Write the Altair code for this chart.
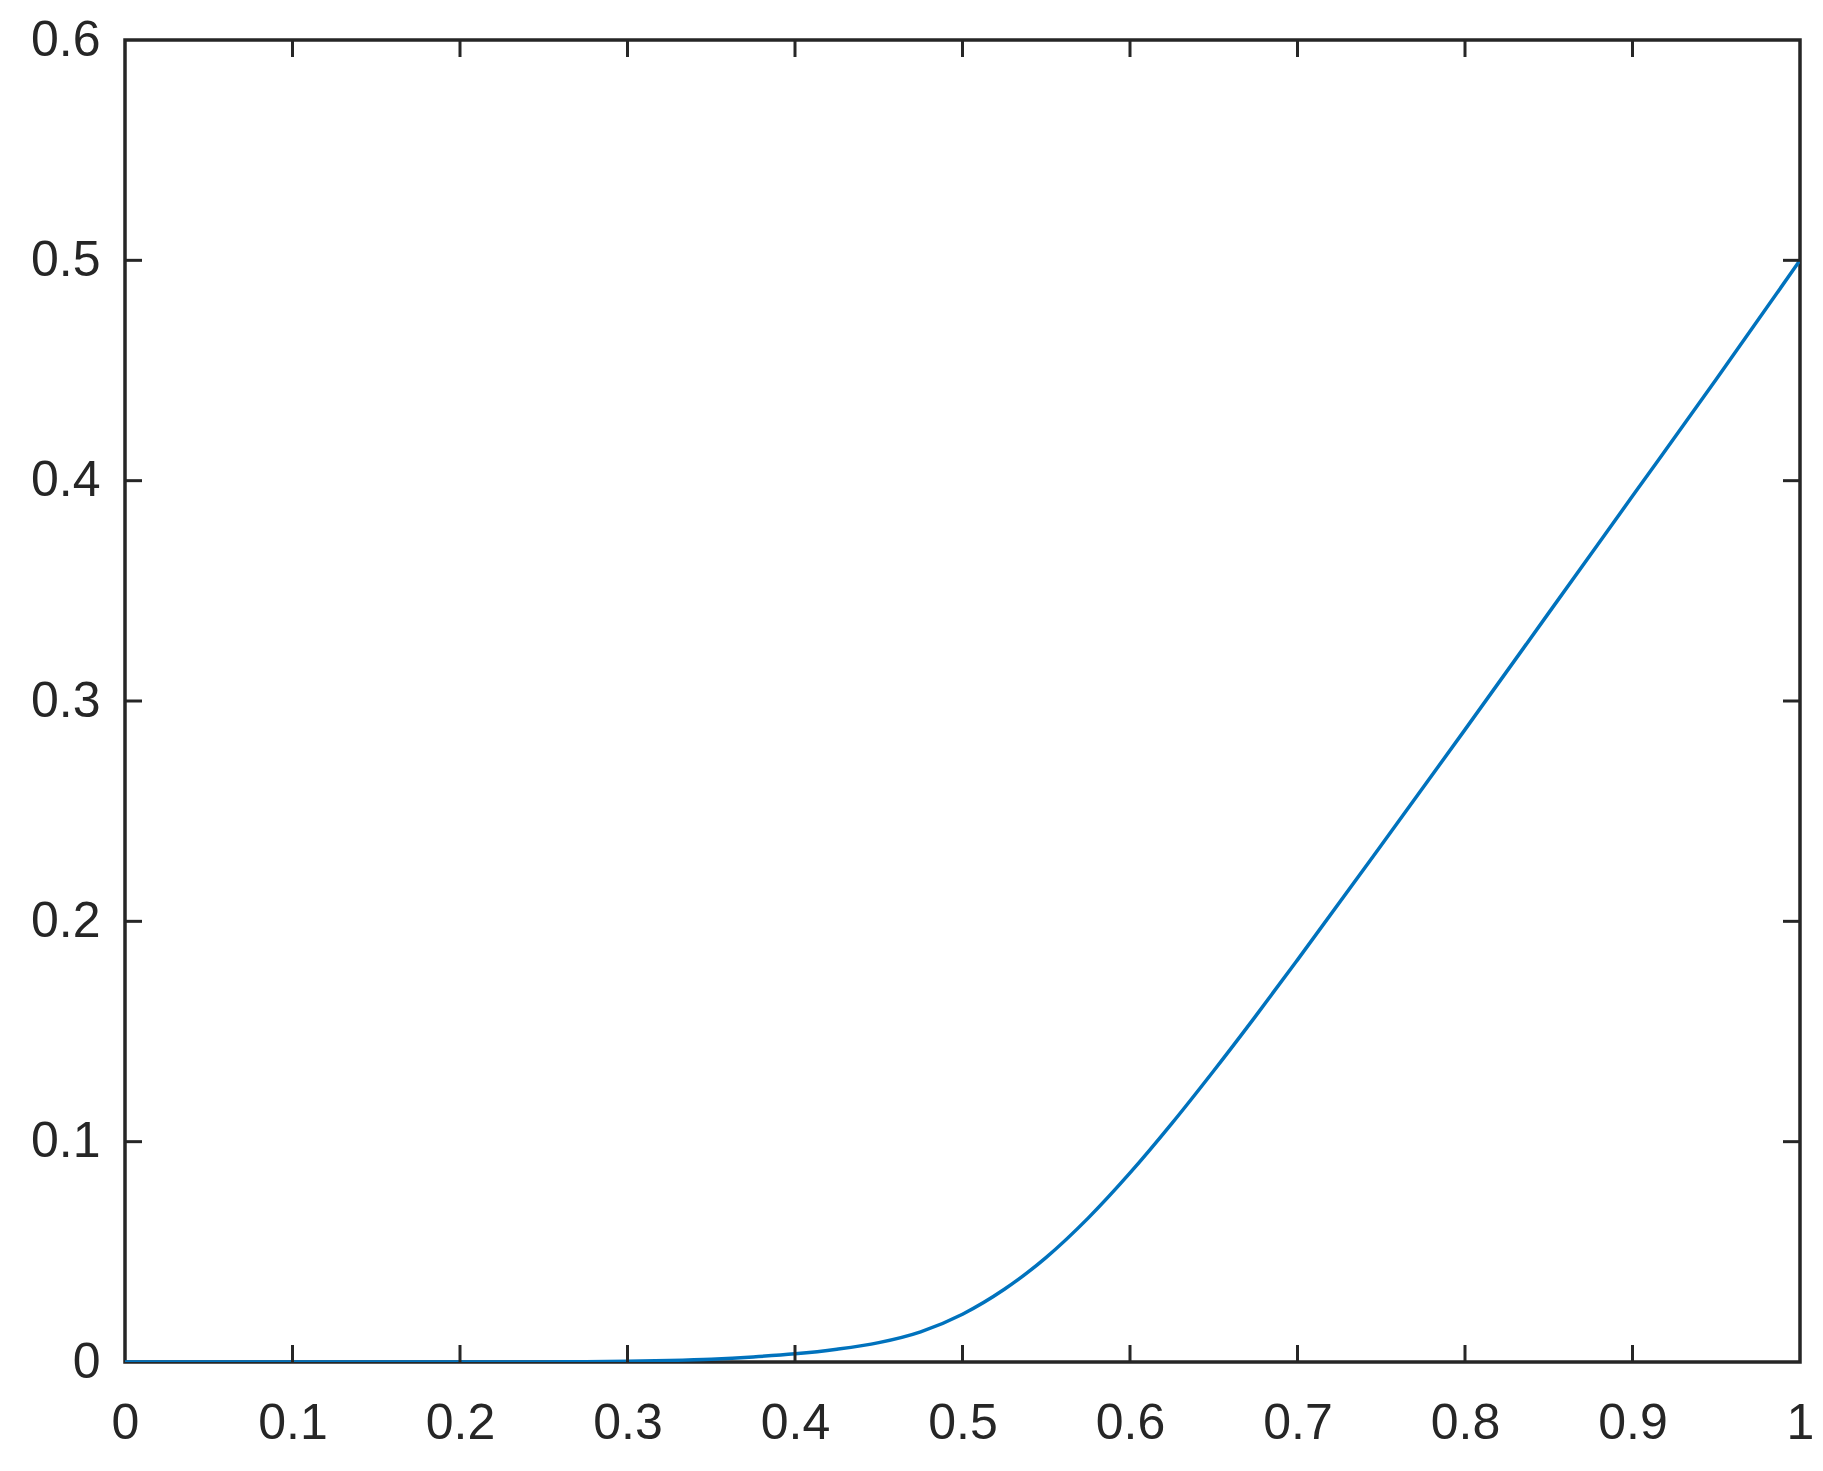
import altair as alt
import pandas as pd

# Values
x_vals = [0.0, 0.1, 0.2, 0.25, 0.275, 0.3, 0.325, 0.35, 0.375, 0.4, 0.425, 0.45,
          0.475, 0.5, 0.525, 0.55, 0.575, 0.6, 0.625, 0.65, 0.675, 0.7,
          0.75, 0.8, 0.85, 0.9, 0.95, 1.0]
y_vals = [0.0, 0.0, 0.0, 0.00005, 0.0001, 0.0003, 0.0007, 0.0013, 0.0023, 0.0037, 0.0058, 0.0088,
          0.0137, 0.0217, 0.033, 0.0475, 0.0653, 0.0858, 0.1083, 0.1322, 0.157, 0.1825,
          0.2345, 0.287, 0.340, 0.393, 0.446, 0.5]

x_ticks = [0, 0.1, 0.2, 0.3, 0.4, 0.5, 0.6, 0.7, 0.8, 0.9, 1]
y_ticks = [0, 0.1, 0.2, 0.3, 0.4, 0.5, 0.6]

W, H = 1675, 1322
TICK = 17
AXIS_COLOR = "#262626"
FONT = "Liberation Sans"

curve = pd.DataFrame({"x": x_vals, "y": y_vals})
xt = pd.DataFrame({"x": x_ticks[1:-1]})
yt = pd.DataFrame({"y": y_ticks[1:-1]})

xscale = alt.Scale(domain=[0, 1], nice=False, zero=False)
yscale = alt.Scale(domain=[0, 0.6], nice=False, zero=False)

line = alt.Chart(curve).mark_line(
    color="#0072BD", strokeWidth=3.5, interpolate="monotone", clip=True
).encode(
    x=alt.X("x:Q", scale=xscale, axis=alt.Axis(
        values=x_ticks, format="~g", title=None, grid=False, domain=False,
        ticks=False, tickSize=0, labelPadding=36, labelFlush=False,
        labelOverlap=False, labelFontSize=50, labelFont=FONT,
        labelColor=AXIS_COLOR)),
    y=alt.Y("y:Q", scale=yscale, axis=alt.Axis(
        values=y_ticks, format="~g", title=None, grid=False, domain=False,
        ticks=False, tickSize=0, labelPadding=25, labelFlush=False,
        labelOverlap=False, labelFontSize=50, labelFont=FONT,
        labelColor=AXIS_COLOR)),
)

tick_style = dict(color=AXIS_COLOR, strokeWidth=3)

x_bottom = alt.Chart(xt).mark_rule(**tick_style).encode(
    x=alt.X("x:Q", scale=xscale), y=alt.value(H), y2=alt.value(H - TICK))
x_top = alt.Chart(xt).mark_rule(**tick_style).encode(
    x=alt.X("x:Q", scale=xscale), y=alt.value(0), y2=alt.value(TICK))
y_left = alt.Chart(yt).mark_rule(**tick_style).encode(
    y=alt.Y("y:Q", scale=yscale), x=alt.value(0), x2=alt.value(TICK))
y_right = alt.Chart(yt).mark_rule(**tick_style).encode(
    y=alt.Y("y:Q", scale=yscale), x=alt.value(W - TICK), x2=alt.value(W))

chart = alt.layer(line, x_bottom, x_top, y_left, y_right).properties(
    width=W, height=H,
    autosize=alt.AutoSizeParams(type="none"),
    padding={"left": 117, "top": 32, "right": 15, "bottom": 100},
    background="white",
).configure_view(
    stroke=AXIS_COLOR, strokeWidth=3.5, fill="white"
)

chart.save("out.html", embed_options={"renderer": "svg", "actions": False})
